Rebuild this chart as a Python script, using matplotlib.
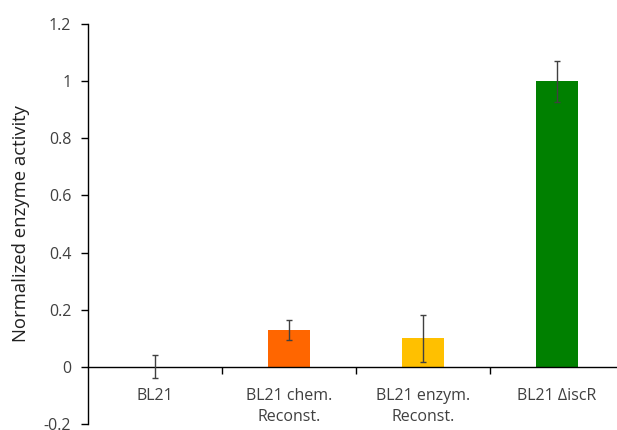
import numpy as np
from matplotlib import pyplot as plt

plt.rcParams['font.family'] = ['Open Sans', 'DejaVu Sans']

categories = ["BL21", "BL21 chem.\nReconst.", "BL21 enzym.\nReconst.", "BL21 \u0394iscR"]
values = [0.0, 0.13, 0.10, 1.0]
errors = [0.04, 0.035, 0.083, 0.072]
colors = ["#FFFFFF", "#FF6600", "#FFC000", "#008000"]
yticks = [-0.2, 0, 0.2, 0.4, 0.6, 0.8, 1, 1.2]
yticklabels = ["-0.2", "0", "0.2", "0.4", "0.6", "0.8", "1", "1.2"]

fig = plt.figure(figsize=(6.17, 4.30), dpi=100)
ax = fig.add_axes([88 / 617, 6 / 430, 536 / 617, 400 / 430])

x = np.arange(len(categories))
ax.bar(x, values, width=0.32, color=colors, zorder=2)
ax.errorbar(x, values, yerr=errors, fmt="none", ecolor="#404040",
            elinewidth=1.0, capsize=2.5, capthick=1.0, zorder=3)

ax.set_xlim(-0.5, 3.5)
ax.set_ylim(-0.2, 1.2)
ax.set_yticks(yticks)
ax.set_yticklabels(yticklabels, fontsize=11.5, color="#404040")
ax.set_ylabel("Normalized enzyme activity", fontsize=13.3, color="#202020", labelpad=10)

ax.spines["top"].set_visible(False)
ax.spines["right"].set_visible(False)
ax.spines["bottom"].set_position(("data", 0))
ax.spines["left"].set_linewidth(1.0)
ax.spines["bottom"].set_linewidth(1.0)

ax.set_xticks(x)
ax.set_xticklabels(categories, fontsize=11.5, color="#404040", linespacing=1.45)
ax.set_xticks([0.5, 1.5, 2.5], minor=True)
ax.tick_params(axis="x", which="major", length=0, pad=15)
ax.tick_params(axis="x", which="minor", length=5, width=1.0, direction="out")
ax.tick_params(axis="y", length=5, width=1.0, direction="out", pad=7)

fig.savefig("out.png", dpi=100)
